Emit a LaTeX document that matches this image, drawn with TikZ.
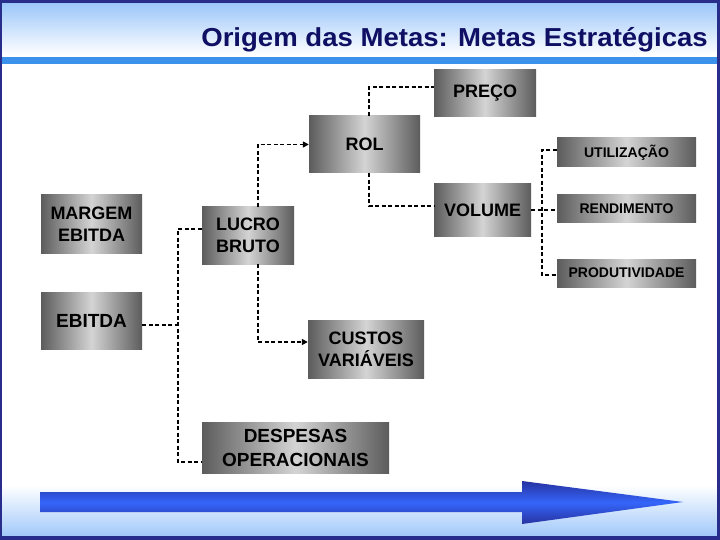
\documentclass[tikz,border=0pt]{standalone}
\usepackage{fontspec}
\setmainfont{Liberation Sans}
\usetikzlibrary{arrows.meta}
\definecolor{navyb}{RGB}{40,45,140}
\definecolor{headtop}{RGB}{150,195,250}
\definecolor{stripe}{RGB}{60,145,235}
\definecolor{titlec}{RGB}{15,15,100}
\definecolor{boxdark}{RGB}{92,92,92}
\definecolor{boxlight}{RGB}{212,212,212}
\definecolor{arrdark}{RGB}{40,50,160}
\definecolor{arrmid}{RGB}{52,102,250}
\definecolor{footblue}{RGB}{160,200,250}
\begin{document}
\begin{tikzpicture}[x=1pt,y=-1pt,
  gbox/.style={draw=none, left color=boxdark, right color=boxdark, middle color=boxlight,
    inner sep=0pt, align=center, text=black, font=\bfseries\fontsize{18}{22}\selectfont},
  sbox/.style={gbox, font=\bfseries\fontsize{14}{16}\selectfont},
  dl/.style={line width=1.6pt, dash pattern=on 4pt off 2.5pt, black},
  arr/.style={-{Triangle[length=6pt,width=6pt]}}]
\useasboundingbox (0,0) rectangle (720,540);
% background
\fill[white] (0,0) rectangle (720,540);
\shade[top color=headtop, bottom color=white] (0,0) rectangle (720,55);
\fill[white] (0,55) rectangle (720,57);
\fill[stripe] (0,57) rectangle (720,64);
\shade[top color=white, bottom color=footblue] (0,485) rectangle (720,537);
% frame
\fill[navyb] (0,0) rectangle (720,3);
\fill[navyb] (0,536) rectangle (720,540);
\fill[navyb] (0,0) rectangle (2,540);
\fill[navyb] (717,0) rectangle (720,540);
% title
\node[anchor=base east, inner sep=0pt, text=titlec, font=\bfseries\fontsize{26}{30}\selectfont] (title) at (708,47) {\scalebox{1.06}[1]{Origem das Metas: Metas Estratégicas}};
% boxes
\node[gbox, minimum width=102pt, minimum height=47pt] (preco) at (485,93.5) {PREÇO};
\node[gbox, minimum width=111pt, minimum height=57pt] (rol) at (364.5,144.5) {ROL};
\node[gbox, minimum width=97pt, minimum height=52pt] (volume) at (482.5,210) {VOLUME};
\node[sbox, minimum width=139pt, minimum height=29pt] (util) at (626.5,152.5) {UTILIZAÇÃO};
\node[sbox, minimum width=139pt, minimum height=28pt] (rend) at (626.5,209) {RENDIMENTO};
\node[sbox, minimum width=139pt, minimum height=28pt] (prod) at (626.5,273) {PRODUTIVIDADE};
\node[gbox, minimum width=101pt, minimum height=58pt] (margem) at (91.5,224) {MARGEM\\EBITDA};
\node[gbox, minimum width=92pt, minimum height=57pt] (lucro) at (248,235.5) {LUCRO\\BRUTO};
\node[gbox, minimum width=101pt, minimum height=57pt, font=\bfseries\fontsize{19}{22}\selectfont] (ebitda) at (91.5,320.5) {EBITDA};
\node[gbox, minimum width=116pt, minimum height=58pt] (custos) at (366,349) {CUSTOS\\VARIÁVEIS};
\node[gbox, minimum width=187pt, minimum height=51pt, font=\bfseries\fontsize{19}{24}\selectfont] (desp) at (295.5,447.5) {DESPESAS\\OPERACIONAIS};
% connectors
\coordinate (j1) at (178,325);
\coordinate (j2) at (542,210);
\draw[dl] ([yshift=-4.5pt]ebitda.east) -- (j1);
\draw[dl] ([yshift=6.5pt]lucro.west) -| (j1) |- ([yshift=-14.5pt]desp.west);
\draw[dl, arr] ([xshift=10pt]lucro.north) |- (rol.west);
\draw[dl, arr] ([xshift=10pt]lucro.south) |- ([yshift=7pt]custos.west);
\draw[dl] ([xshift=4.5pt]rol.north) |- ([yshift=6.5pt]preco.west);
\draw[dl] ([xshift=4.5pt]rol.south) |- ([yshift=4pt]volume.west);
\draw[dl] (volume.east) -- (volume.east -| rend.west);
\draw[dl] ([yshift=2.5pt]util.west) -| (j2) |- ([yshift=-2pt]prod.west);
% big arrow
\shade[top color=arrdark, bottom color=arrdark, middle color=arrmid]
  (40,492) -- (522,492) -- (522,481) -- (683,502) -- (522,524) -- (522,512) -- (40,512) -- cycle;
\end{tikzpicture}
\end{document}
